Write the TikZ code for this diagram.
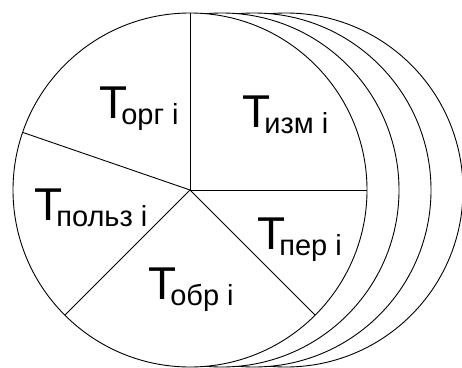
\documentclass[tikz,border=0pt]{standalone}
\usepackage{fontspec}
\setmainfont{Liberation Sans}
\newcommand{\tlabel}[1]{Т\kern-6pt\raisebox{-6pt}{\fontsize{29}{29}\selectfont #1}}

\begin{document}
\begin{tikzpicture}[
    x=1pt, y=1pt,
    disc/.style={
        circle,
        draw,
        fill=white,
        line width=0.9pt,
        minimum size=354pt,
        inner sep=0pt,
        outer sep=0pt
    },
    divider/.style={
        line width=0.9pt
    },
    tag/.style={
        anchor=base west,
        inner sep=0pt,
        font=\fontsize{46}{46}\selectfont
    }
]
    \useasboundingbox (0,0) rectangle (462,367);

    % Stacked discs, back to front
    \foreach \i/\dx in {3/96, 2/64, 1/32} {
        \node[disc] (back\i) at (190+\dx,177) {};
    }
    \node[disc] (front) at (190,177) {};

    % Sectors
    \foreach \a in {90, 0, -45, 225, 161.5} {
        \draw[divider] (front.center) -- (front.\a);
    }

    % Labels
    \node[tag] (org) at (99,248) {\tlabel{орг i}};
    \node[tag] (izm) at (242,239) {\tlabel{изм i}};
    \node[tag] (polz) at (34,147) {\tlabel{польз i}};
    \node[tag] (per) at (257,118) {\tlabel{пер i}};
    \node[tag] (obr) at (148,68) {\tlabel{обр i}};

\end{tikzpicture}
\end{document}
